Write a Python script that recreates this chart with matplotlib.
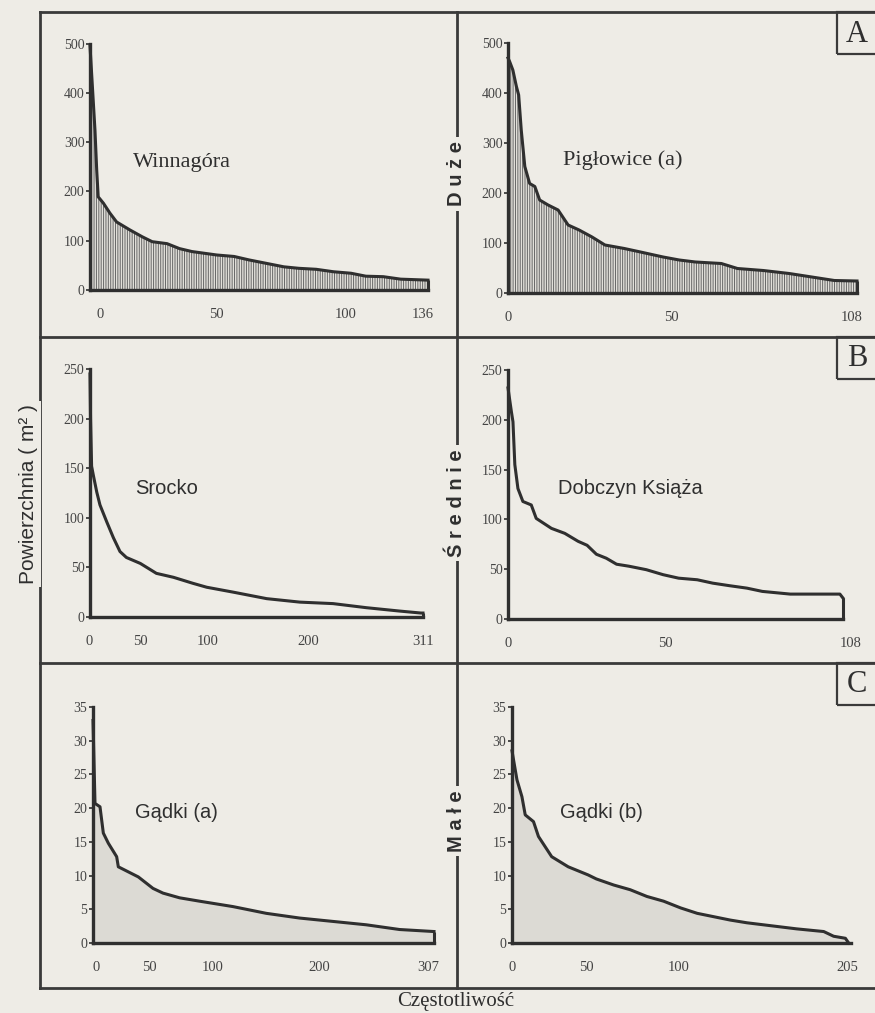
import numpy as np
import matplotlib.pyplot as plt
from matplotlib.lines import Line2D
from matplotlib.patches import Rectangle

# ---- data (rank -> area, m2) ----
wg_rank = [0, 2, 2.7, 3.3, 5.4, 8, 10.7, 16, 21, 25, 31, 36, 41, 51, 58, 64, 71, 78, 84, 91, 98, 105, 111, 118, 125, 136]
wg_val = [495, 324, 243, 189, 176, 156, 138, 122, 108, 98, 94, 84, 78, 71, 68, 61, 54, 47, 44, 42, 37, 34, 28, 27, 22, 20]

pg_rank = [0, 0.5, 1.5, 2.6, 3.3, 4.1, 5.2, 6.7, 8.3, 9.8, 12.4, 15.5, 18.6, 22, 26, 30, 36, 41, 48, 53, 58, 66, 71, 79, 87, 94, 101, 108]
pg_val = [470, 463, 446, 413, 396, 326, 253, 219, 213, 186, 176, 166, 136, 126, 112, 96, 89, 82, 72, 66, 62, 59, 49, 45, 39, 32, 25, 24]

sr_rank = [0, 0.5, 1.5, 3.1, 6.3, 9.3, 15.6, 21.8, 28, 34, 47, 62, 78, 96, 109, 134, 165, 196, 227, 258, 289, 309, 311]
sr_val = [245, 200, 152, 143, 126, 113, 96, 80, 66, 60, 54, 44, 40, 34, 30, 25, 18.5, 15, 13.5, 9.4, 6, 4, 4]

dk_rank = [0, 1.1, 1.6, 2.2, 3.2, 4.8, 7.5, 9.1, 14, 18.3, 22.6, 25.5, 28.5, 31.7, 35, 39, 44.6, 50, 55, 61, 66, 71.5, 77, 82, 91, 107, 108]
dk_val = [232, 208, 198, 155, 131, 118, 114.5, 101, 91, 86, 78, 74, 65, 61, 55, 53, 49.5, 44.5, 41, 39.4, 36, 33.4, 31, 27.7, 25, 25, 21]

ga_rank = [0, 1.8, 6.3, 9.3, 13.8, 21.3, 22.8, 28.8, 40.8, 54, 63, 78, 96, 126, 156, 186, 216, 246, 276, 307]
ga_val = [33, 20.7, 20.2, 16.3, 14.8, 12.8, 11.3, 10.8, 9.8, 8.1, 7.4, 6.7, 6.2, 5.4, 4.4, 3.7, 3.2, 2.7, 2.0, 1.7]

gb_rank = [0, 3, 6, 8, 13, 16, 20, 24, 34, 46, 51, 61.5, 71.5, 81.6, 91.7, 102, 112, 122, 132, 142, 152, 162, 172, 188.5, 194.5, 201.6, 203.6]
gb_val = [28.5, 24.2, 21.7, 19, 18, 15.8, 14.3, 12.8, 11.3, 10.1, 9.5, 8.6, 7.9, 6.9, 6.2, 5.2, 4.4, 3.9, 3.4, 3.0, 2.7, 2.4, 2.1, 1.7, 1.0, 0.7, 0]

titles = ["Winnagóra", "Pigłowice (a)", "Srocko", "Dobczyn Książa", "Gądki (a)", "Gądki (b)"]
row_labels = ["D u ż e", "Ś r e d n i e", "M a ł e"]
letters = ["A", "B", "C"]

W, H = 875, 1013
BG = '#eeece6'
INK = '#2f2f2f'
SERIF = 'Liberation Serif'
SANS = 'Liberation Sans'
plt.rcParams['hatch.linewidth'] = 0.7
plt.rcParams['hatch.color'] = '#666666'

fig = plt.figure(figsize=(W / 100, H / 100), dpi=100, facecolor=BG)


def fx(x):
    return x / W


def fy(y):
    return 1 - y / H


def panel(x0, xN, n, y0, ytop, ymax, yticks, xpos, xlabels, padl=6, padr=10):
    scale = (xN - x0) / n
    left, right = x0 - padl, xN + padr
    ax = fig.add_axes([fx(left), fy(y0), (right - left) / W, (y0 - ytop) / H])
    ax.patch.set_alpha(0)
    ax.set_xlim(-padl / scale, n + padr / scale)
    ax.set_ylim(0, ymax)
    ax.spines[['top', 'right']].set_visible(False)
    ax.spines['left'].set_position(('data', 0))
    ax.spines['bottom'].set_bounds(0, n)
    for s in ('left', 'bottom'):
        ax.spines[s].set_linewidth(2.4)
        ax.spines[s].set_color(INK)
        ax.spines[s].set_zorder(5)
    ax.set_yticks(yticks)
    ax.set_xticks(xpos, xlabels)
    ax.tick_params(axis='y', direction='out', length=3, width=1.2, color=INK,
                   pad=1, labelsize=10, labelcolor='#444')
    ax.tick_params(axis='x', length=0, pad=13, labelsize=10.5, labelcolor='#444')
    for t in ax.get_xticklabels() + ax.get_yticklabels():
        t.set_fontfamily(SERIF)
    return ax


def curve(ax, r, v, fill=None):
    if fill == 'bars':
        ax.fill_between(r, v, 0, facecolor='#e2e0da', edgecolor='#666666',
                        hatch='|' * 7, linewidth=0, zorder=1)
    elif fill == 'grey':
        ax.fill_between(r, v, 0, facecolor='#dcdad4', linewidth=0, zorder=1)
    ax.plot(r, v, color=INK, lw=2.2, clip_on=False, zorder=4, solid_joinstyle='round')
    ax.vlines(r[-1], 0, v[-1], color=INK, lw=2.2, clip_on=False, zorder=4)


ax1 = panel(90, 428, 136, 290, 43.5, 500, range(0, 501, 100), [4, 51, 103, 134], ["0", "50", "100", "136"])
curve(ax1, wg_rank, wg_val, 'bars')
ax2 = panel(508, 857, 108, 293, 43, 500, range(0, 501, 100), [0, 50.7, 106.5], ["0", "50", "108"])
curve(ax2, pg_rank, pg_val, 'bars')
ax3 = panel(90, 423, 311, 617, 369, 250, range(0, 251, 50), [-1, 47, 110, 204, 311], ["0", "50", "100", "200", "311"])
curve(ax3, sr_rank, sr_val)
ax4 = panel(508, 843, 108, 619, 370, 250, range(0, 251, 50), [0, 50.6, 110.6], ["0", "50", "108"])
curve(ax4, dk_rank, dk_val)
ax5 = panel(93, 434, 307, 943, 707, 35, range(0, 36, 5), [2.4, 50.4, 107.5, 203.5, 302], ["0", "50", "100", "200", "307"])
curve(ax5, ga_rank, ga_val, 'grey')
ax6 = panel(512, 851, 205, 943, 707, 35, range(0, 36, 5), [0, 45, 101, 202.5], ["0", "50", "100", "205"])
curve(ax6, gb_rank, gb_val, 'grey')

# panel titles
title_xy = [(133, 162, SERIF, 16), (563, 160, SERIF, 16), (135, 489, SANS, 14.5),
            (558, 489, SANS, 14.5), (135, 813, SANS, 14.5), (560, 813, SANS, 14.5)]
for t, (x, y, fam, size) in zip(titles, title_xy):
    fig.text(fx(x), fy(y), t, family=fam, fontsize=size, color=INK, ha='left', va='center')

# frame
def fline(xs, ys, lw=2.0):
    fig.add_artist(Line2D([fx(x) for x in xs], [fy(y) for y in ys], color='#3a3a3a', lw=lw, zorder=1))

fline([40, 880], [12, 12])
fline([40, 880], [988, 988])
fline([40, 40], [12, 988])
fline([40, 880], [337, 337])
fline([40, 880], [663, 663])
fline([457, 457], [12, 988])

# letter boxes
for letter, top in zip(letters, [12, 337, 663]):
    fig.add_artist(Rectangle((fx(837), fy(top + 42)), (880 - 837) / W, 42 / H,
                             transform=fig.transFigure, facecolor='none',
                             edgecolor='#3a3a3a', lw=1.6, zorder=1))
    fig.text(fx(857), fy(top + 22), letter, family=SERIF, fontsize=22, color=INK,
             ha='center', va='center')

# row labels on the divider
for lab, yc in zip(row_labels, [174, 503, 821]):
    fig.text(fx(457), fy(yc), lab, family=SANS, fontweight='bold', fontsize=14.5,
             color=INK, rotation=90, ha='center', va='center', zorder=3,
             bbox=dict(facecolor=BG, edgecolor='none', pad=3))

fig.text(fx(29), fy(494), "Powierzchnia ( m² )", family=SANS, fontsize=15, color=INK,
         rotation=90, ha='center', va='center', zorder=3,
         bbox=dict(facecolor=BG, edgecolor='none', pad=2))
fig.text(fx(456), fy(1001), "Częstotliwość", family=SERIF, fontsize=15, color=INK,
         ha='center', va='center')

fig.savefig('out.png', dpi=100, facecolor=BG)
